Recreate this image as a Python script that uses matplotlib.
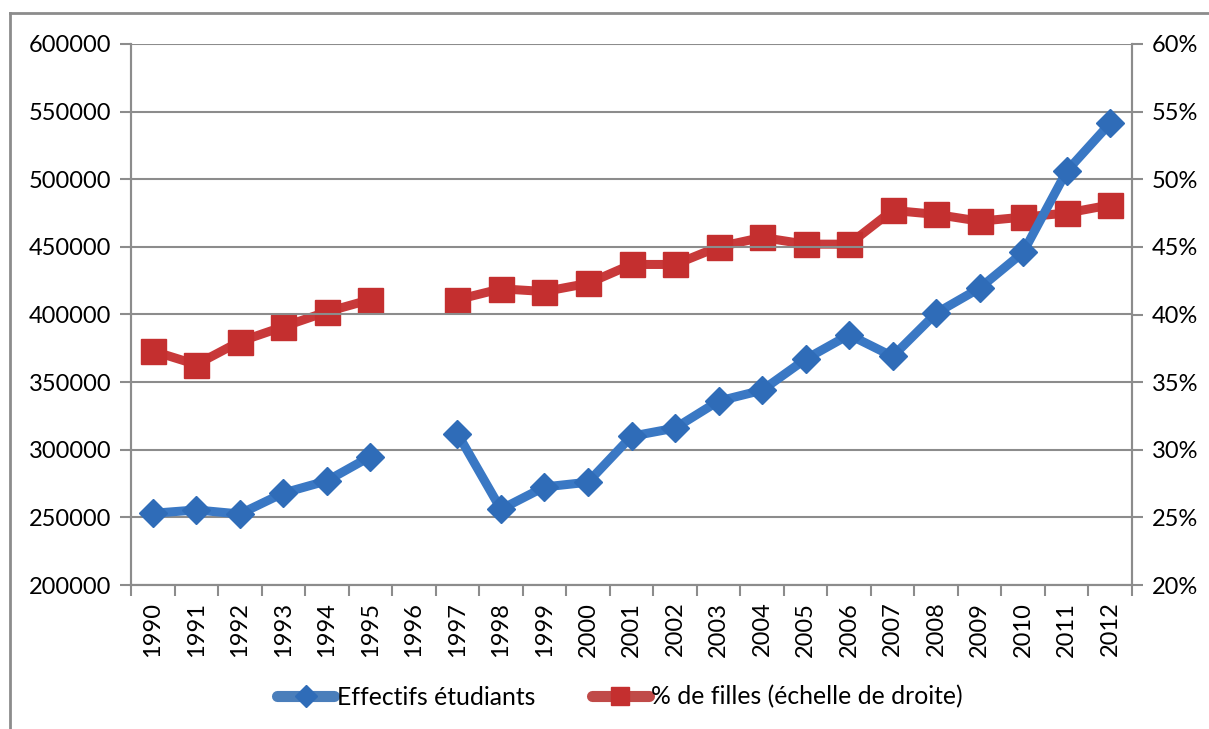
import numpy as np
import matplotlib
matplotlib.use('Agg')
import matplotlib.pyplot as plt
from matplotlib.lines import Line2D
from matplotlib.ticker import FuncFormatter

years = ['1990', '1991', '1992', '1993', '1994', '1995', '1996', '1997', '1998',
         '1999', '2000', '2001', '2002', '2003', '2004', '2005', '2006', '2007',
         '2008', '2009', '2010', '2011', '2012']

effectifs = [253000, 255500, 252500, 268000, 277000, 295000, np.nan, 312000,
             256000, 272500, 276000, 310000, 316000, 336000, 344000, 367000,
             385000, 369000, 401000, 419500, 446000, 506000, 541500]

pct_filles = [37.3, 36.3, 38.0, 39.1, 40.2, 41.1, np.nan, 41.1, 41.9, 41.7,
              42.3, 43.7, 43.7, 45.0, 45.7, 45.2, 45.2, 47.7, 47.4, 46.9,
              47.2, 47.5, 48.1]

blue = '#3a78c4'
blue_dark = '#2f6cb8'
red = '#c8393a'
red_dark = '#c42f2f'
grid = '#8c8c8c'

plt.rcParams['font.family'] = ['Lato', 'DejaVu Sans']

fig = plt.figure(figsize=(12.09, 7.29), dpi=100)
ax = fig.add_axes([131 / 1209, 1 - 585 / 729, (1132 - 131) / 1209, (585 - 44) / 729])
ax2 = ax.twinx()

x = np.arange(len(years))

ax.plot(x, effectifs, color=blue, lw=6.5, marker='D', ms=14, mfc=blue_dark,
        mec=blue_dark, solid_capstyle='round', zorder=3)
ax2.plot(x, pct_filles, color=red, lw=6.5, marker='s', ms=18, mfc=red_dark,
         mec=red_dark, zorder=3)

ax.set_zorder(2)
ax.patch.set_visible(False)

ax.set_xlim(-0.5, len(years) - 0.5)
ax.set_ylim(200000, 600000)
ax.set_yticks(np.arange(200000, 600001, 50000))
ax.yaxis.set_major_formatter(FuncFormatter(lambda v, p: f'{int(v)}'))
ax2.set_ylim(20, 60)
ax2.set_yticks(np.arange(20, 61, 5))
ax2.yaxis.set_major_formatter(FuncFormatter(lambda v, p: f'{int(v)}%'))

ax.set_xticks(x)
ax.set_xticklabels(years, rotation=90)
ax.set_xticks(np.arange(-0.5, len(years)), minor=True)
ax.tick_params(axis='x', which='major', length=0, pad=12, labelsize=17)
ax.tick_params(axis='x', which='minor', length=8, width=1.5, color=grid)
ax.tick_params(axis='y', length=8, width=1.5, color=grid, labelsize=17, pad=6)
ax2.tick_params(axis='y', length=8, width=1.5, color=grid, labelsize=17, pad=6)

ax.grid(axis='y', color=grid, lw=1.5, zorder=0)
for a in (ax, ax2):
    a.spines['top'].set_visible(False)
    for s in ('left', 'right', 'bottom'):
        a.spines[s].set_color(grid)
        a.spines[s].set_linewidth(1.5)

handles = [
    Line2D([], [], color='#4a7ebb', lw=8, marker='D', ms=11, mfc=blue_dark,
           mec=blue_dark, solid_capstyle='round'),
    Line2D([], [], color='#c04a48', lw=8, marker='s', ms=13, mfc=red_dark,
           mec=red_dark, solid_capstyle='round'),
]
fig.legend(handles, ['Effectifs étudiants', '% de filles (échelle de droite)'],
           loc='center', bbox_to_anchor=(620 / 1209, 1 - 697 / 729), ncol=2,
           frameon=False, fontsize=17.8, handlelength=2.3, handletextpad=0.1,
           columnspacing=2.3)

# cadre autour du graphique
fig.add_artist(Line2D([10 / 1209, 10 / 1209], [0, 1 - 13 / 729],
                      transform=fig.transFigure, color='#8c8c8c', lw=2))
fig.add_artist(Line2D([10 / 1209, 1], [1 - 13 / 729, 1 - 13 / 729],
                      transform=fig.transFigure, color='#8c8c8c', lw=2))

fig.savefig('out.png', dpi=100)
